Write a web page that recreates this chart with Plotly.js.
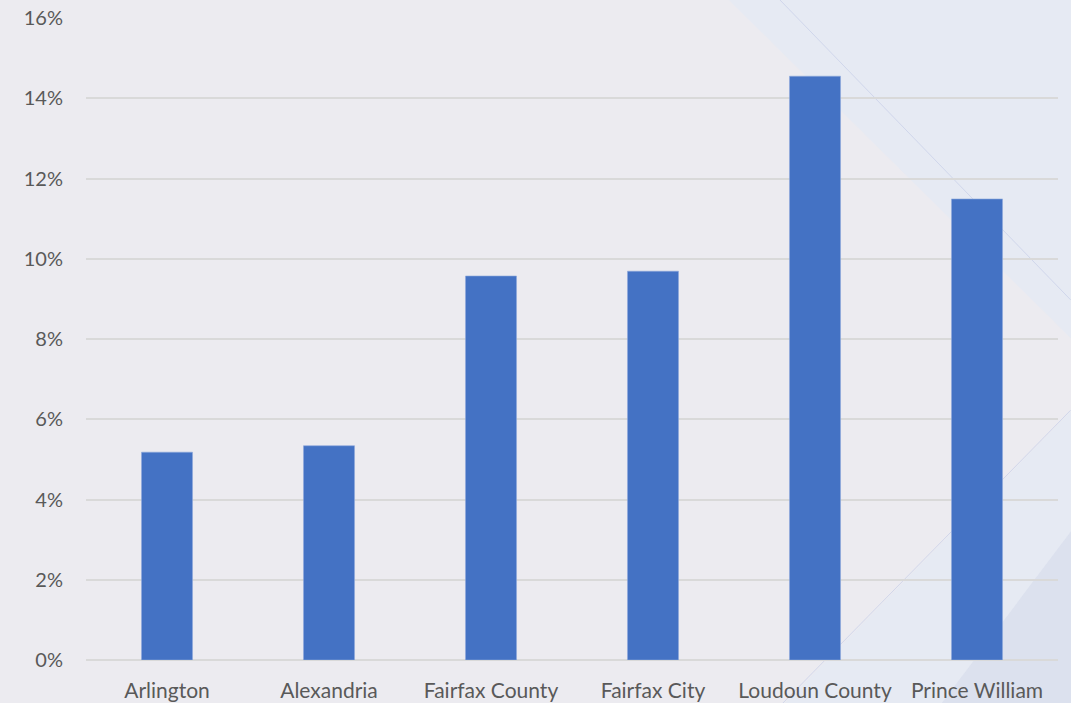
<!DOCTYPE html>
<html>
<head>
<meta charset="utf-8">
<script src="https://cdn.plot.ly/plotly-3.0.1.min.js"></script>
<style>
html,body{margin:0;padding:0;background:#ECEBF0;}
#chart{width:1071px;height:703px;}
</style>
</head>
<body>
<div id="chart"></div>
<script>
const categories = ["Arlington", "Alexandria", "Fairfax County", "Fairfax City", "Loudoun County", "Prince William"];
const values = [0.0518, 0.0534, 0.0957, 0.0969, 0.1455, 0.1149];
const tickValues = [0, 0.02, 0.04, 0.06, 0.08, 0.10, 0.12, 0.14, 0.16];
const tickLabels = ["0%", "2%", "4%", "6%", "8%", "10%", "12%", "14%", "16%"];

const trace = {
  type: "bar",
  x: categories,
  y: values,
  marker: {color: "#4472C4", line: {color: "#8FAADC", width: 0.6}},
  hoverinfo: "x+y"
};

const layout = {
  width: 1071,
  height: 703,
  margin: {l: 86, r: 13, t: 18, b: 43},
  paper_bgcolor: "#ECEBF0",
  plot_bgcolor: "rgba(0,0,0,0)",
  bargap: 0.685,
  showlegend: false,
  font: {family: "Lato, 'Open Sans', sans-serif", size: 21, color: "#595959"},
  xaxis: {
    tickfont: {size: 21, color: "#595959"},
    showgrid: false,
    zeroline: false,
    showline: false,
    ticks: "",
    ticklabelstandoff: 16
  },
  yaxis: {
    range: [0, 0.16],
    tickvals: tickValues,
    ticktext: tickLabels,
    tickfont: {size: 20, color: "#595959"},
    showgrid: true,
    gridcolor: "#D9D9D9",
    gridwidth: 2,
    zeroline: true,
    zerolinecolor: "#D9D9D9",
    zerolinewidth: 2,
    showline: false,
    ticks: "",
    ticklabelstandoff: 22
  },
  shapes: [
    {type: "path", xref: "paper", yref: "paper", layer: "below",
     path: "M 0.66 1.03 L 1.014 1.03 L 1.014 0.50 Z",
     fillcolor: "rgba(225,232,246,0.45)", line: {width: 0}},
    {type: "path", xref: "paper", yref: "paper", layer: "below",
     path: "M 0.717 -0.07 L 1.014 0.389 L 1.014 -0.07 Z",
     fillcolor: "rgba(225,232,246,0.45)", line: {width: 0}},
    {type: "path", xref: "paper", yref: "paper", layer: "below",
     path: "M 0.879 -0.07 L 1.014 0.202 L 1.014 -0.07 Z",
     fillcolor: "rgba(212,216,234,0.55)", line: {width: 0}},
    {type: "line", xref: "paper", yref: "paper", layer: "below",
     x0: 0.714, y0: 1.028, x1: 1.013, y1: 0.561,
     line: {color: "rgba(205,212,234,0.9)", width: 1}},
    {type: "line", xref: "paper", yref: "paper", layer: "below",
     x0: 0.717, y0: -0.067, x1: 1.013, y1: 0.389,
     line: {color: "rgba(205,212,234,0.9)", width: 1}}
  ]
};

Plotly.newPlot("chart", [trace], layout, {displayModeBar: false, staticPlot: true});
</script>
</body>
</html>
